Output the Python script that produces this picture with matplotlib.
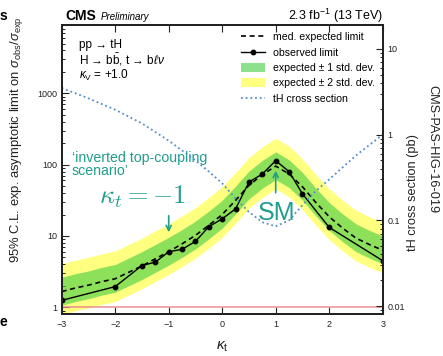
import matplotlib
matplotlib.use('Agg')
import matplotlib.pyplot as plt
from matplotlib.lines import Line2D
from matplotlib.patches import Patch

plt.rcParams['font.family'] = ['Liberation Sans', 'DejaVu Sans']
plt.rcParams['mathtext.fontset'] = 'custom'
plt.rcParams['mathtext.rm'] = 'Liberation Sans'
plt.rcParams['mathtext.it'] = 'Liberation Sans:italic'
plt.rcParams['mathtext.bf'] = 'Liberation Sans:bold'
plt.rcParams['mathtext.sf'] = 'Liberation Sans'

# ---- data ----
kappa_obs = [-3, -2, -1.5, -1.25, -1, -0.75, -0.5, -0.25, 0, 0.25, 0.5, 0.75, 1, 1.25, 1.5, 2, 3]
obs_limit = [1.25, 1.95, 3.85, 4.3, 6.0, 6.5, 8.4, 13.5, 17.4, 24, 57, 74, 114, 80, 39, 13.2, 4.5]

kappa_exp = [-3, -2.75, -2.5, -2.25, -2, -1.75, -1.5, -1.25, -1, -0.75, -0.5, -0.25, 0,
             0.25, 0.5, 0.75, 1, 1.25, 1.5, 1.75, 2, 2.25, 2.5, 2.75, 3]
exp_limit = [1.66, 1.86, 2.04, 2.29, 2.51, 3.09, 3.80, 4.79, 6.03, 7.76, 10.2, 14.1, 20.0,
             31.6, 51.3, 72.4, 95.5, 74.1, 49.0, 29.5, 18.6, 12.9, 9.33, 7.59, 6.31]
exp_up1 = [2.63, 2.95, 3.23, 3.63, 3.98, 4.90, 6.02, 7.59, 9.56, 12.3, 16.2, 22.3, 31.7,
           50.1, 81.3, 115, 151, 117, 77.7, 46.8, 29.5, 20.4, 14.8, 12.0, 10.0]
exp_dn1 = [1.07, 1.20, 1.32, 1.48, 1.62, 2.00, 2.45, 3.09, 3.90, 5.01, 6.59, 9.11, 12.9,
           20.4, 33.1, 46.8, 61.7, 47.9, 31.7, 19.1, 12.0, 8.33, 6.03, 4.90, 4.08]
exp_up2 = [4.08, 4.57, 5.01, 5.62, 6.16, 7.59, 9.33, 11.8, 14.8, 19.1, 25.0, 34.6, 49.1,
           77.6, 126, 178, 234, 182, 120, 72.4, 45.7, 31.7, 22.9, 18.6, 15.5]
exp_dn2 = [0.795, 0.891, 0.977, 1.10, 1.20, 1.48, 1.82, 2.29, 2.89, 3.72, 4.89, 6.75, 9.58,
           15.1, 24.6, 34.7, 45.7, 35.5, 23.5, 14.1, 8.91, 6.18, 4.47, 3.64, 3.02]

kappa_xs = [-3, -2.5, -2, -1.5, -1, -0.5, -0.25, 0, 0.25, 0.5, 0.75, 1, 1.25, 1.5, 1.75,
            2, 2.5, 3]
xsec_pb = [3.5, 2.65, 1.95, 1.35, 0.85, 0.5, 0.37, 0.27, 0.18, 0.125, 0.095, 0.085, 0.1,
           0.15, 0.22, 0.3, 0.57, 1.0]

left_ticks = [1, 10, 100, 1000]
left_labels = ['1', '10', '100', '1000']
right_ticks = [0.01, 0.1, 1, 10]
right_labels = ['0.01', '0.1', '1', '10']
x_ticks = [-3, -2, -1, 0, 1, 2, 3]

teal = '#1f9e8c'
yellow = '#ffff80'
green = (65 / 255, 205 / 255, 65 / 255)
blue = '#4f8fd0'

fig = plt.figure(figsize=(4.43, 3.56), dpi=100)
ax = fig.add_axes([0.1393, 0.118, 0.7246, 0.8118])
ax.set_yscale('log')
ax.set_xlim(-3, 3)
ax.set_ylim(0.805, 9100)

ax.fill_between(kappa_exp, exp_dn2, exp_up2, color=yellow, lw=0, zorder=1)
ax.fill_between(kappa_exp, exp_dn1, exp_up1, color=green, alpha=0.6, lw=0, zorder=2)
ax.plot(kappa_exp, exp_limit, color='black', ls=(0, (3, 2.2)), lw=1.2, zorder=3)
ax.plot(kappa_obs, obs_limit, color='black', lw=1.0, marker='o', ms=3.2, zorder=4)
ax.axhline(1, color='#e89090', lw=1.1, zorder=3)

ax2 = ax.twinx()
ax2.set_yscale('log')
ax2.set_ylim(0.00807, 19.0)
ax2.plot(kappa_xs, xsec_pb, color=blue, ls=(0, (1, 1.6)), lw=1.3)

for a in (ax, ax2):
    for s in a.spines.values():
        s.set_linewidth(1.4)
        s.set_color('#222222')

ax.set_xticks(x_ticks)
ax.set_yticks(left_ticks)
ax.set_yticklabels(left_labels)
ax.tick_params(axis='both', which='major', direction='in', length=5, width=0.8,
               labelsize=6.5, top=True, right=False, colors='#222222')
ax.tick_params(axis='y', which='minor', direction='in', length=2.5, width=0.6, right=False)
ax.tick_params(axis='x', which='major', pad=4)
ax2.set_yticks(right_ticks)
ax2.set_yticklabels(right_labels)
ax2.tick_params(axis='y', which='major', direction='in', length=5, width=0.8,
                labelsize=6.5, colors='#222222')
ax2.tick_params(axis='y', which='minor', direction='in', length=2.5, width=0.6)

ax.set_xlabel(r'$\kappa_\mathrm{t}$', fontsize=11, color='#222222')
ax.xaxis.set_label_coords(0.5, -0.09)
fig.text(0.038, 0.608, r'95% C.L. exp. asymptotic limit on $\sigma_\mathrm{obs}/\sigma_\mathrm{exp}$',
         rotation=90, ha='center', va='center', fontsize=9.4, color='#222222')
fig.text(0.932, 0.46, 'tH cross section (pb)', rotation=90, ha='center', va='center',
         fontsize=9.2, color='#222222')
fig.text(0.975, 0.58, 'CMS-PAS-HIG-16-019', rotation=270, ha='center', va='center',
         fontsize=9.2, color='#222222')

fig.text(0.147, 0.945, 'CMS', fontsize=10, fontweight='bold', ha='left', va='baseline')
fig.text(0.228, 0.945, 'Preliminary', fontsize=7, style='italic', ha='left', va='baseline')
fig.text(0.864, 0.945, r'2.3 fb$^{-1}$ (13 TeV)', fontsize=9, ha='right', va='baseline')

ax.text(0.055, 0.931, 'pp → tH', transform=ax.transAxes, fontsize=8.5, va='center')
ax.text(0.055, 0.879, r'H → b$\bar{\mathrm{b}}$, t → b$\ell\nu$', transform=ax.transAxes,
        fontsize=8.5, va='center')
ax.text(0.055, 0.827, r'$\kappa_\mathrm{V}$ = +1.0', transform=ax.transAxes, fontsize=8.5,
        va='center')

handles = [Line2D([], [], color='black', ls=(0, (3, 2.2)), lw=1.2),
           Line2D([], [], color='black', lw=1.0, marker='o', ms=3.2),
           Patch(facecolor=green, alpha=0.6, lw=0),
           Patch(facecolor=yellow, lw=0),
           Line2D([], [], color=blue, ls=(0, (1, 1.6)), lw=1.3)]
labels = ['med. expected limit', 'observed limit', 'expected ± 1 std. dev.',
          'expected ± 2 std. dev.', 'tH cross section']
ax2.legend(handles, labels, loc='upper right', bbox_to_anchor=(1.0, 1.0), frameon=False,
           fontsize=7.6, handlelength=2.3, handleheight=0.9, labelspacing=0.5,
           handletextpad=0.8, borderaxespad=0.3)

ax.text(-2.81, 101, '‘inverted top-coupling\nscenario’', fontsize=10.2, color=teal,
        ha='left', va='center', linespacing=0.9)
ax.text(-1.49, 36, r'$\kappa_t = -1$', fontsize=19, color=teal, ha='center', va='center',
        math_fontfamily='cm')
ax.annotate('', xy=(-1, 10.3), xytext=(-1, 21),
            arrowprops=dict(arrowstyle='->', color=teal, lw=1.2, mutation_scale=9))
ax.text(1.02, 21, 'SM', fontsize=18, color=teal, ha='center', va='center')
ax.annotate('', xy=(1, 90), xytext=(1, 37),
            arrowprops=dict(arrowstyle='->', color=teal, lw=1.2, mutation_scale=9))

fig.text(0.0, 0.955, 's', fontsize=10, fontweight='bold', ha='left', va='center')
fig.text(0.0, 0.095, 'e', fontsize=10, fontweight='bold', ha='left', va='center')

fig.savefig('out.png', dpi=100)
